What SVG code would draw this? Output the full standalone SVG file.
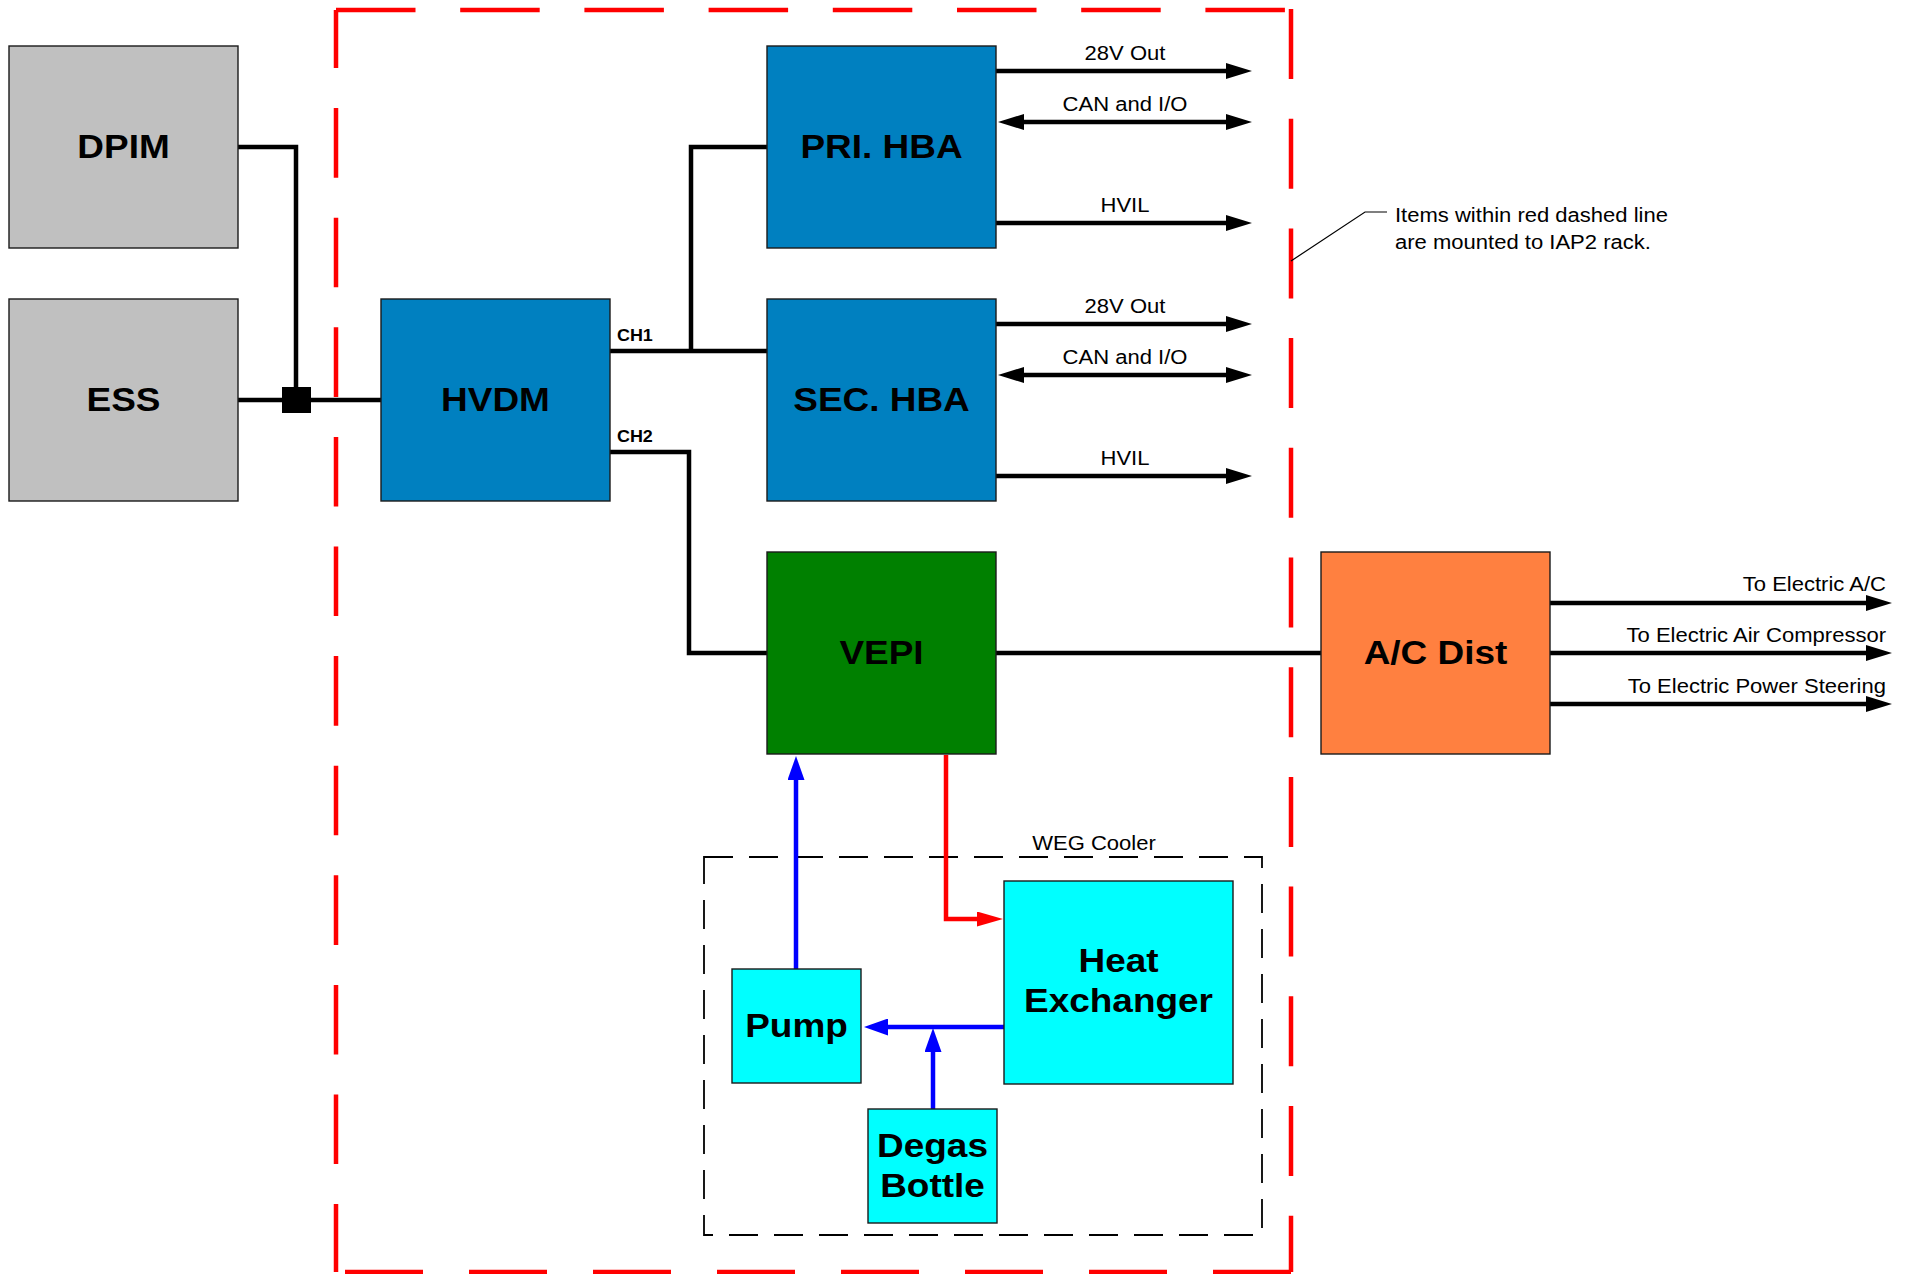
<svg xmlns="http://www.w3.org/2000/svg" width="1912" height="1274" viewBox="0 0 1912 1274">
<style>
  text { font-family: "Liberation Sans", Arial, sans-serif; fill: #000; }
  .big { font-size: 33px; font-weight: bold; text-anchor: middle; }
  .lbl { font-size: 19.5px; text-anchor: middle; }
  .end { font-size: 19.5px; text-anchor: end; }
  .note { font-size: 19.5px; text-anchor: start; }
  .ch { font-size: 16px; font-weight: bold; text-anchor: start; }
  .box { stroke: #1a1a1a; stroke-width: 1.4; }
  .grey { fill: #C0C0C0; }
  .blue { fill: #0080C0; }
  .green { fill: #008000; }
  .orange { fill: #FF8040; }
  .cyan { fill: #00FFFF; }
  .wire { fill: none; stroke: #000; stroke-width: 4.5; }
  .sig { fill: none; stroke: #000; stroke-width: 4.5; marker-end: url(#ah); }
  .bi { marker-start: url(#ah); }
  .bwire { fill: none; stroke: #0000FF; stroke-width: 4.5; marker-end: url(#ahb); }
  .rwire { fill: none; stroke: #FF0000; stroke-width: 4.5; marker-end: url(#ahr); }
  .rack { fill: none; stroke: #FF0000; stroke-width: 4.5; }
</style>
<defs>
  <marker id="ah" viewBox="0 0 26 16" markerWidth="26" markerHeight="16" markerUnits="userSpaceOnUse" refX="1" refY="8" orient="auto-start-reverse">
    <path d="M0,0 L26,8 L0,16 Z" fill="#000"/>
  </marker>
  <marker id="ahb" viewBox="0 0 24 17" markerWidth="24" markerHeight="17" markerUnits="userSpaceOnUse" refX="1" refY="8.5" orient="auto">
    <path d="M0,0 L24,8.5 L0,17 Z" fill="#0000FF"/>
  </marker>
  <marker id="ahr" viewBox="0 0 26 15" markerWidth="26" markerHeight="15" markerUnits="userSpaceOnUse" refX="1" refY="7.5" orient="auto">
    <path d="M0,0 L26,7.5 L0,15 Z" fill="#FF0000"/>
  </marker>
</defs>
<rect x="0" y="0" width="1912" height="1274" fill="#FFFFFF"/>

<g id="rack-boundary">
  <line class="rack" x1="336" y1="10" x2="1291" y2="10" stroke-dasharray="79.5 44.7"/>
  <line class="rack" x1="1291" y1="9" x2="1291" y2="1272" stroke-dasharray="70 39.7"/>
  <line class="rack" x1="1291" y1="1272" x2="336" y2="1272" stroke-dasharray="78 46"/>
  <line class="rack" x1="336" y1="10" x2="336" y2="1272" stroke-dasharray="69.6 40" stroke-dashoffset="11.5"/>
</g>

<g id="weg-cooler">
  <rect x="704" y="857" width="558" height="378" fill="none" stroke="#000" stroke-width="1.8" stroke-dasharray="29 16"/>
  <text class="lbl" transform="matrix(1.13 0 0 1 1094 0)" x="0" y="850">WEG Cooler</text>
</g>

<g id="connectors">
  <path class="wire" d="M238,147 H296 V390"/>
  <path class="wire" d="M238,400 H381"/>
  <rect x="282" y="387" width="29" height="26" fill="#000"/>
  <path class="wire" d="M767,147 H691 V351"/>
  <path class="wire" d="M610,351 H767"/>
  <path class="wire" d="M610,452 H689 V653 H767"/>
  <path class="wire" d="M996,653 H1321"/>
  <path class="sig" d="M996,71 H1227"/>
  <path class="sig bi" d="M1023,122 H1227"/>
  <path class="sig" d="M996,223 H1227"/>
  <path class="sig" d="M996,324 H1227"/>
  <path class="sig bi" d="M1023,375 H1227"/>
  <path class="sig" d="M996,476 H1227"/>
  <path class="sig" d="M1550,603 H1867"/>
  <path class="sig" d="M1550,653 H1867"/>
  <path class="sig" d="M1550,704 H1867"/>
  <path class="bwire" d="M796,969 V779"/>
  <path class="bwire" d="M1004,1027 H887"/>
  <path class="bwire" d="M933,1109 V1051"/>
  <path class="rwire" d="M946,755 V919 H978"/>
  <text class="ch" transform="matrix(1.12 0 0 1 617 0)" x="0" y="341">CH1</text>
  <text class="ch" transform="matrix(1.12 0 0 1 617 0)" x="0" y="442">CH2</text>
  <text class="lbl" transform="matrix(1.13 0 0 1 1125 0)" x="0" y="60">28V Out</text>
  <text class="lbl" transform="matrix(1.13 0 0 1 1125 0)" x="0" y="111">CAN and I/O</text>
  <text class="lbl" transform="matrix(1.13 0 0 1 1125 0)" x="0" y="212">HVIL</text>
  <text class="lbl" transform="matrix(1.13 0 0 1 1125 0)" x="0" y="313">28V Out</text>
  <text class="lbl" transform="matrix(1.13 0 0 1 1125 0)" x="0" y="364">CAN and I/O</text>
  <text class="lbl" transform="matrix(1.13 0 0 1 1125 0)" x="0" y="465">HVIL</text>
  <text class="end" transform="matrix(1.13 0 0 1 1886 0)" x="0" y="591">To Electric A/C</text>
  <text class="end" transform="matrix(1.13 0 0 1 1886 0)" x="0" y="642">To Electric Air Compressor</text>
  <text class="end" transform="matrix(1.13 0 0 1 1886 0)" x="0" y="693">To Electric Power Steering</text>
</g>

<g id="DPIM">
  <rect class="box grey" x="9" y="46" width="229" height="202"/>
  <text class="big" transform="matrix(1.12 0 0 1 123.5 0)" x="0" y="158">DPIM</text>
</g>
<g id="ESS">
  <rect class="box grey" x="9" y="299" width="229" height="202"/>
  <text class="big" transform="matrix(1.12 0 0 1 123.5 0)" x="0" y="411">ESS</text>
</g>
<g id="HVDM">
  <rect class="box blue" x="381" y="299" width="229" height="202"/>
  <text class="big" transform="matrix(1.12 0 0 1 495.5 0)" x="0" y="411">HVDM</text>
</g>
<g id="PRI-HBA">
  <rect class="box blue" x="767" y="46" width="229" height="202"/>
  <text class="big" transform="matrix(1.12 0 0 1 881.5 0)" x="0" y="158">PRI. HBA</text>
</g>
<g id="SEC-HBA">
  <rect class="box blue" x="767" y="299" width="229" height="202"/>
  <text class="big" transform="matrix(1.12 0 0 1 881.5 0)" x="0" y="411">SEC. HBA</text>
</g>
<g id="VEPI">
  <rect class="box green" x="767" y="552" width="229" height="202"/>
  <text class="big" transform="matrix(1.12 0 0 1 881.5 0)" x="0" y="664">VEPI</text>
</g>
<g id="AC-Dist">
  <rect class="box orange" x="1321" y="552" width="229" height="202"/>
  <text class="big" transform="matrix(1.12 0 0 1 1435.5 0)" x="0" y="664">A/C Dist</text>
</g>
<g id="Heat-Exchanger">
  <rect class="box cyan" x="1004" y="881" width="229" height="203"/>
  <text class="big" transform="matrix(1.12 0 0 1 1118.5 0)" x="0" y="972">Heat</text>
  <text class="big" transform="matrix(1.12 0 0 1 1118.5 0)" x="0" y="1012">Exchanger</text>
</g>
<g id="Pump">
  <rect class="box cyan" x="732" y="969" width="129" height="114"/>
  <text class="big" transform="matrix(1.12 0 0 1 796.5 0)" x="0" y="1037">Pump</text>
</g>
<g id="Degas-Bottle">
  <rect class="box cyan" x="868" y="1109" width="129" height="114"/>
  <text class="big" transform="matrix(1.12 0 0 1 932.5 0)" x="0" y="1157">Degas</text>
  <text class="big" transform="matrix(1.12 0 0 1 932.5 0)" x="0" y="1197">Bottle</text>
</g>

<g id="annotation">
  <path d="M1291,261 L1365,212 H1387" fill="none" stroke="#000" stroke-width="1.2"/>
  <text class="note" transform="matrix(1.13 0 0 1 1395 0)" x="0" y="222">Items within red dashed line</text>
  <text class="note" transform="matrix(1.13 0 0 1 1395 0)" x="0" y="249">are mounted to IAP2 rack.</text>
</g>
</svg>
